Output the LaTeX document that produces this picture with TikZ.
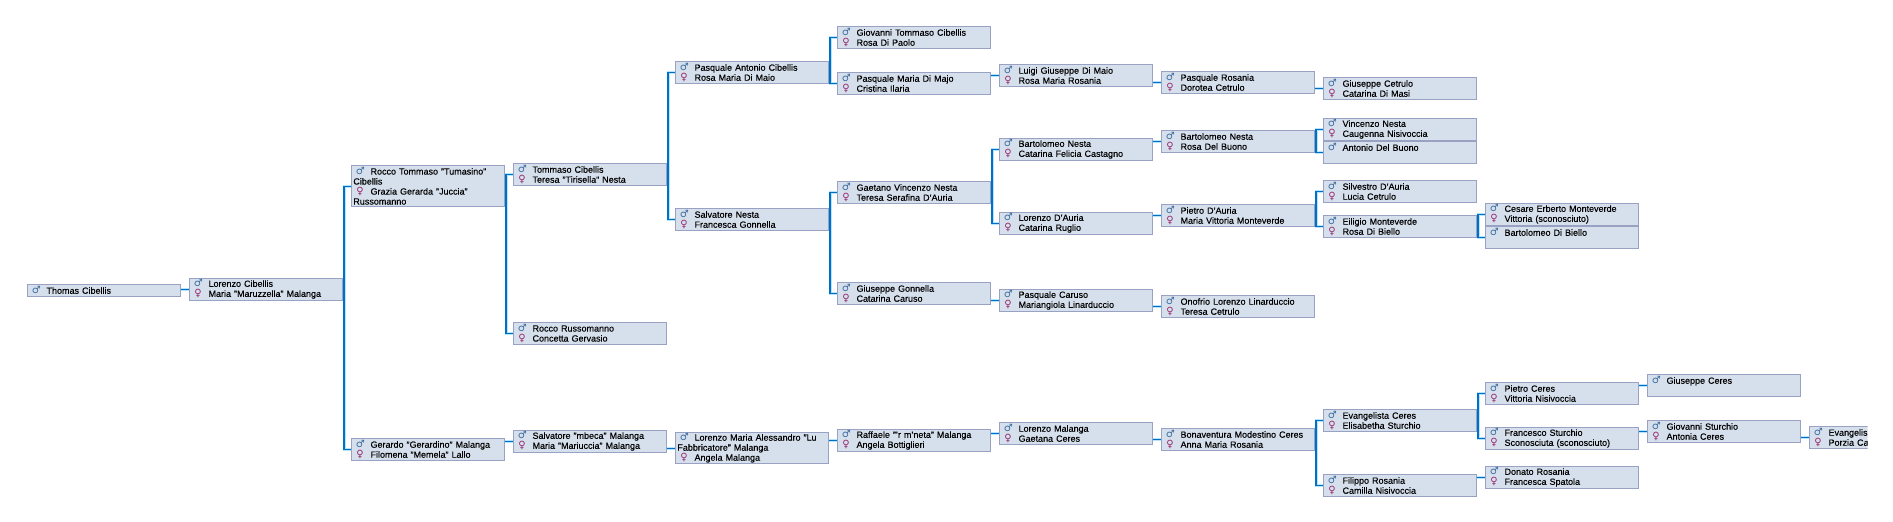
\documentclass[tikz,border=0pt]{standalone}
\usepackage{fontspec}
\setmainfont[FakeBold=0.25]{Liberation Sans}
\newfontfamily\signfont{DejaVu Sans}
\definecolor{boxfill}{HTML}{D6E0EC}
\definecolor{boxline}{HTML}{9AA2C4}
\definecolor{linkblue}{HTML}{0070C4}
\definecolor{linkhalo}{HTML}{B4E4FF}
\definecolor{heblue}{HTML}{3A6A9E}
\definecolor{shered}{HTML}{96286E}
\newcommand{\hesign}{\leavevmode\hbox to 17.2pt{\kern2.5pt\smash{\signfont\bfseries\fontsize{10}{10}\selectfont\color{heblue}♂}\hfil}}
\newcommand{\shesign}{\leavevmode\hbox to 17.2pt{\kern3pt\smash{\signfont\bfseries\fontsize{10}{10}\selectfont\color{shered}♀}\hfil}}
\newcommand{\personfont}{\fontsize{9}{10}\selectfont\spaceskip=4.2pt\relax}
\tikzset{
	person/.style={draw=boxline,fill=boxfill,line width=1.1pt,anchor=north west,
		minimum height=21.3pt,text width=149.3pt,align=left,inner xsep=1.5pt,inner ysep=0pt,
		font=\personfont},
	link/.style={draw=linkblue,line width=1.6pt,preaction={draw=linkhalo,line width=2.7pt}}
}
\begin{document}
\begin{tikzpicture}[x=1pt,y=-1pt]
	\useasboundingbox (0,0) rectangle (1893,522);
	\begin{scope}
	\clip (0,0) rectangle (1867.5,522);
	% plain couples: name/column/top/he/she
	\foreach \who/\colno/\ytop/\hisname/\hername in {
		lorenzo/1/278.3/Lorenzo Cibellis/Maria "Maruzzella" Malanga,
		gerardo/2/438.3/Gerardo "Gerardino" Malanga/Filomena "Memela" Lallo,
		tommaso/3/163.3/Tommaso Cibellis/Teresa "Tirisella" Nesta,
		roccor/3/322.3/Rocco Russomanno/Concetta Gervasio,
		mbeca/3/430.3/Salvatore "mbeca" Malanga/Maria "Mariuccia" Malanga,
		pasqa/4/61.3/Pasquale Antonio Cibellis/Rosa Maria Di Maio,
		salvn/4/208.3/Salvatore Nesta/Francesca Gonnella,
		giovt/5/26.3/Giovanni Tommaso Cibellis/Rosa Di Paolo,
		pasqm/5/72.3/Pasquale Maria Di Majo/Cristina Ilaria,
		gaetano/5/181.3/Gaetano Vincenzo Nesta/Teresa Serafina D'Auria,
		giug/5/282.3/Giuseppe Gonnella/Catarina Caruso,
		raffaele/5/429.3/Raffaele "'r m'neta" Malanga/Angela Bottiglieri,
		luigi/6/64.3/Luigi Giuseppe Di Maio/Rosa Maria Rosania,
		bartn/6/138.3/Bartolomeo Nesta/Catarina Felicia Castagno,
		lord/6/212.3/Lorenzo D'Auria/Catarina Ruglio,
		pasqc/6/289.3/Pasquale Caruso/Mariangiola Linarduccio,
		lorm/6/422.3/Lorenzo Malanga/Gaetana Ceres,
		pasqr/7/71.3/Pasquale Rosania/Dorotea Cetrulo,
		bartd/7/130.3/Bartolomeo Nesta/Rosa Del Buono,
		pietrod/7/204.3/Pietro D'Auria/Maria Vittoria Monteverde,
		onofrio/7/295.3/Onofrio Lorenzo Linarduccio/Teresa Cetrulo,
		bona/7/428.3/Bonaventura Modestino Ceres/Anna Maria Rosania,
		giuc/8/77.3/Giuseppe Cetrulo/Catarina Di Masi,
		vinc/8/118.3/Vincenzo Nesta/Caugenna Nisivoccia,
		silv/8/180.3/Silvestro D'Auria/Lucia Cetrulo,
		eil/8/215.3/Eiligio Monteverde/Rosa Di Biello,
		evan/8/409.3/Evangelista Ceres/Elisabetha Sturchio,
		filippo/8/474.3/Filippo Rosania/Camilla Nisivoccia,
		cesare/9/203.3/Cesare Erberto Monteverde/Vittoria (sconosciuto),
		pietroc/9/382.3/Pietro Ceres/Vittoria Nisivoccia,
		franc/9/427.3/Francesco Sturchio/Sconosciuta (sconosciuto),
		donato/9/466.3/Donato Rosania/Francesca Spatola,
		giovs/10/420.3/Giovanni Sturchio/Antonia Ceres,
		evangelis/11/426.3/Evangelis/Porzia Ca}
		\node[person] (\who) at (27.3+\colno*162,\ytop) {\hesign\hisname\\\shesign\hername};
	% men alone
	\foreach \who/\colno/\ytop/\hisname in {
		antonio/8/141.3/Antonio Del Buono,
		bartb/9/226.3/Bartolomeo Di Biello,
		giusc/10/374.3/Giuseppe Ceres}
		\node[person] (\who) at (27.3+\colno*162,\ytop) {\hesign\hisname\\\mbox{}};
	\node[person,minimum height=11.4pt] (thomas) at (27.3,284.3) {\hesign Thomas Cibellis};
	% long names that wrap
	\node[person,minimum height=41pt] (rocco) at (351.3,165.3)
		{\hesign Rocco Tommaso "Tumasino"\\Cibellis\\\shesign Grazia Gerarda "Juccia"\\Russomanno};
	\node[person,minimum height=31pt] (lormaria) at (675.3,432.3)
		{\hesign Lorenzo Maria Alessandro "Lu\\Fabbricatore" Malanga\\\shesign Angela Malanga};
	% one child
	\foreach \dad/\kid in {thomas/lorenzo,gerardo/mbeca,mbeca/lormaria,lormaria/raffaele,pasqm/luigi,
		giug/pasqc,raffaele/lorm,luigi/pasqr,bartn/bartd,lord/pietrod,pasqc/onofrio,lorm/bona,
		pasqr/giuc,filippo/donato,pietroc/giusc,franc/giovs,giovs/evangelis}
		\draw[link] (\dad.east |- \kid.west) -- (\kid.west);
	% two children
	\foreach \dad/\kida/\kidb in {lorenzo/rocco/gerardo,rocco/tommaso/roccor,tommaso/pasqa/salvn,
		pasqa/giovt/pasqm,salvn/gaetano/giug,gaetano/bartn/lord,bartd/vinc/antonio,
		pietrod/silv/eil,bona/evan/filippo,eil/cesare/bartb,evan/pietroc/franc}
		\draw[link] (\kida.west) -| ([xshift=1.5pt]\dad.east) |- (\kidb.west);
	\end{scope}
\end{tikzpicture}
\end{document}
